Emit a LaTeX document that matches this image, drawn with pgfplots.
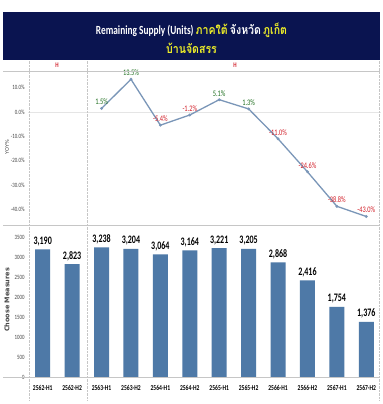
\documentclass[border=0pt]{standalone}
\usepackage{fontspec}
\usepackage{pgfplots}
\pgfplotsset{compat=1.18}
\setmainfont{Carlito}
\newfontfamily\cond[FakeStretch=0.75]{Carlito}
\newfontfamily\condb[FakeStretch=0.7]{Carlito}
\newfontfamily\thai[Script=Thai,FakeStretch=0.85]{Loma}
\newfontfamily\dejavu{DejaVu Sans}
\definecolor{navy}{RGB}{10,20,80}
\definecolor{tyellow}{RGB}{240,240,40}
\definecolor{barblue}{RGB}{78,121,167}
\definecolor{linecol}{RGB}{122,150,184}
\definecolor{posgreen}{RGB}{30,110,30}
\definecolor{negred}{RGB}{210,30,40}
\definecolor{ticktext}{RGB}{70,70,70}
\begin{document}
\begin{tikzpicture}
\fill[white] (0bp,0bp) rectangle (383bp,404bp);
% title box
\fill[navy] (3bp,344bp) rectangle (380bp,392bp);
\node[align=center, text=white, font=\cond\bfseries\fontsize{12.5}{19}\selectfont, inner sep=0pt] at (191.5bp,365.5bp)
 {Remaining Supply (Units) {\thai\bfseries\color{tyellow}ภาคใต้} {\thai\bfseries จังหวัด} {\thai\bfseries\color{tyellow}ภูเก็ต}\\[0pt]{\thai\bfseries\color{tyellow}บ้านจัดสรร}};
% header H labels
\node[text=negred, font=\cond\bfseries\fontsize{7}{8}\selectfont] at (57bp,339bp) {H};
\node[text=negred, font=\cond\bfseries\fontsize{7}{8}\selectfont] at (235bp,339bp) {H};
% top axis
\begin{axis}[
  at={(28bp,179bp)}, anchor=south west, scale only axis,
  width=353bp, height=153bp,
  xmin=-0.5, xmax=11.5, ymin=-46.5, ymax=16.5,
  axis line style={draw=none}, tick style={draw=none},
  xtick=\empty,
  ytick={-40,-30,-20,-10,0,10},
  yticklabels={-40.0\%,-30.0\%,-20.0\%,-10.0\%,0.0\%,10.0\%},
  yticklabel style={font=\cond\fontsize{6.5}{7}\selectfont, text=ticktext},
  extra y ticks={0}, extra y tick labels={},
  extra y tick style={grid=major, major grid style={gray!20, line width=0.4pt}},
  clip=false,
]
\addplot[color=linecol, line width=1.3pt, mark=*, mark size=0.7pt, mark options={fill=linecol, draw=linecol}]
 coordinates {(2,1.5)(3,13.5)(4,-5.4)(5,-1.2)(6,5.1)(7,1.3)(8,-11.0)(9,-24.6)(10,-38.8)(11,-43.0)};
\addplot[draw=none, mark=none, point meta=y,
  nodes near coords={\pgfmathprintnumber[fixed,fixed zerofill,precision=1,assume math mode=true]{\pgfplotspointmeta}\%},
  every node near coord/.append style={text=posgreen, font=\cond\fontsize{8.5}{9}\selectfont, anchor=south, yshift=0pt}]
 coordinates {(2,1.5)(3,13.5)(6,5.1)(7,1.3)};
\addplot[draw=none, mark=none, point meta=y,
  nodes near coords={\pgfmathprintnumber[fixed,fixed zerofill,precision=1,assume math mode=true]{\pgfplotspointmeta}\%},
  every node near coord/.append style={text=negred, font=\cond\fontsize{8.5}{9}\selectfont, anchor=south, yshift=0pt}]
 coordinates {(4,-5.4)(5,-1.2)(8,-11.0)(9,-24.6)(10,-38.8)(11,-43.0)};
\end{axis}
% bottom axis
\begin{axis}[
  at={(28bp,27bp)}, anchor=south west, scale only axis,
  width=353bp, height=152bp,
  xmin=-0.5, xmax=11.5, ymin=0, ymax=3800,
  ybar, bar width=15bp,
  axis line style={draw=none}, tick style={draw=none},
  xtick={0,1,...,11},
  xticklabels={2562-H1,2562-H2,2563-H1,2563-H2,2564-H1,2564-H2,2565-H1,2565-H2,2566-H1,2566-H2,2567-H1,2567-H2},
  xticklabel style={font=\cond\bfseries\fontsize{7.5}{8}\selectfont, yshift=-1pt},
  ytick={0,500,...,3500},
  /pgf/number format/assume math mode=true,
  /pgf/number format/1000 sep={},
  yticklabel style={font=\cond\fontsize{6.5}{7}\selectfont, text=ticktext},
  clip=false,
  nodes near coords={\pgfmathprintnumber[1000 sep={,},assume math mode=true]{\pgfplotspointmeta}},
  every node near coord/.append style={font=\condb\bfseries\fontsize{11.5}{12}\selectfont, text=black, anchor=south, yshift=0pt},
]
\addplot[fill=barblue, draw=none]
 coordinates {(0,3190)(1,2823)(2,3238)(3,3204)(4,3064)(5,3164)(6,3221)(7,3205)(8,2868)(9,2416)(10,1754)(11,1376)};
\end{axis}
% frame lines
\draw[gray!45, line width=0.5pt] (3bp,333bp) -- (380bp,333bp);
\draw[gray!45, line width=0.5pt] (3bp,179bp) -- (380bp,179bp);
\draw[gray!45, line width=0.5pt] (3bp,26.5bp) -- (380bp,26.5bp);
\draw[gray!45, densely dotted, line width=0.4pt] (29bp,4bp) -- (29bp,344bp);
\draw[gray!45, densely dotted, line width=0.4pt] (87bp,4bp) -- (87bp,344bp);
\draw[gray!45, densely dotted, line width=0.4pt] (379bp,4bp) -- (379bp,344bp);
% y axis titles
\node[rotate=90, font=\dejavu\fontsize{5}{6}\selectfont, text=ticktext] at (7bp,257bp) {YOY\%};
\node[rotate=90, font=\dejavu\bfseries\fontsize{6.5}{7}\selectfont, text=ticktext] at (7bp,104bp) {Choose Measures};
\end{tikzpicture}
\end{document}
